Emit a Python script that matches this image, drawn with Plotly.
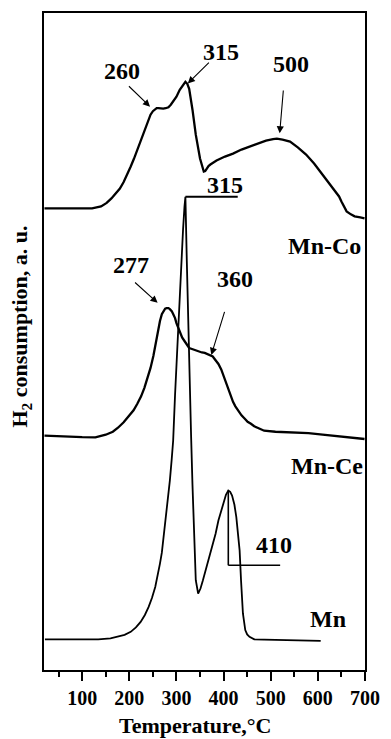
import numpy as np
import plotly.graph_objects as go

FONT = "Liberation Serif"

# Temperature (°C) and H2 consumption signal (a.u., relative to each baseline)
t_mnco = [20, 60, 100, 121, 140, 152, 162, 171, 180, 188, 196, 203, 210, 217, 224, 230,
          235, 240, 245, 250, 254, 258, 262, 267, 272, 277, 283, 288, 293, 300, 307, 314,
          319, 323, 327, 334, 341, 350, 355, 358, 361, 364, 368, 372, 385, 403, 420, 438,
          455, 472, 490, 505, 513, 525, 541, 558, 575, 592, 610, 625, 637, 645, 650, 656,
          661, 670, 678, 690, 699]
s_mnco = [0.0, 0.0, 0.0, 0.0, 0.2, 0.55, 1.0, 1.45, 2.0, 2.65, 3.4, 4.2, 5.0, 5.85, 6.7, 7.5,
          8.2, 8.85, 9.4, 9.75, 9.95, 10.05, 10.05, 10.0, 10.0, 10.05, 10.15, 10.4, 10.7, 11.2, 11.9, 12.4,
          12.7, 12.5, 12.0, 9.9, 7.4, 5.0, 4.0, 3.7, 3.75, 4.0, 4.25, 4.4, 4.8, 5.2, 5.5, 5.9,
          6.2, 6.5, 6.8, 6.95, 7.0, 6.9, 6.7, 6.1, 5.4, 4.5, 3.4, 2.5, 1.7, 1.2, 0.7, 0.1,
          -0.3, -0.6, -0.8, -0.9, -1.0]

t_mnce = [20, 60, 100, 128, 150, 165, 176, 188, 200, 209, 217, 225, 232, 239, 245, 251,
          256, 261, 265, 269, 272, 276, 279, 283, 286, 290, 293, 297, 300, 304, 307, 312,
          317, 322, 327, 333, 338, 343, 348, 354, 360, 366, 372, 377, 381, 385, 389, 395,
          400, 405, 410, 415, 420, 425, 431, 438, 445, 451, 458, 465, 472, 486, 510, 541,
          580, 610, 650, 699]
s_mnce = [0.0, -0.1, -0.15, -0.17, 0.1, 0.4, 0.8, 1.35, 2.0, 2.55, 3.2, 3.95, 4.8, 5.8, 6.8, 8.0,
          9.3, 10.5, 11.5, 12.2, 12.5, 12.75, 12.8, 12.8, 12.7, 12.5, 12.2, 11.8, 11.3, 10.8, 10.3, 9.85,
          9.5, 9.15, 8.8, 8.7, 8.6, 8.5, 8.4, 8.35, 8.3, 8.2, 8.1, 7.95, 7.7, 7.5, 7.2, 6.65,
          6.0, 5.25, 4.5, 3.9, 3.4, 2.95, 2.5, 2.05, 1.7, 1.4, 1.2, 0.95, 0.8, 0.5, 0.4, 0.33,
          0.25, 0.1, -0.1, -0.33]

t_mn = [21, 60, 100, 134, 160, 176, 190, 203, 214, 224, 233, 241, 248, 255, 260, 265,
        269, 272, 276, 279, 283, 286, 290, 293, 297, 303, 309, 314, 317, 319, 322, 325,
        328, 331, 334, 337, 341, 346, 351, 356, 362, 369, 376, 383, 389, 395, 400, 405,
        410, 414, 418, 423, 427, 431, 434, 437, 441, 446, 450, 455, 465, 486, 530, 570, 606]
s_mn = [0.0, 0.0, 0.0, 0.0, 0.1, 0.26, 0.45, 0.76, 1.2, 1.76, 2.45, 3.26, 4.15, 5.26, 6.3, 7.6,
        8.7, 9.93, 11.4, 12.6, 14.3, 15.93, 18.1, 19.93, 24.5, 30.9, 36.6, 41.1, 43.4, 44.4, 37.9, 31.4,
        25.4, 20.5, 15.5, 10.5, 5.93, 4.6, 5.1, 5.9, 6.93, 8.1, 9.26, 10.6, 11.93, 13.0, 13.76, 14.5,
        14.93, 14.8, 14.43, 13.5, 12.26, 10.6, 8.93, 5.93, 2.6, 0.93, 0.5, 0.26, 0.0, -0.03, -0.07, -0.1, -0.14]

# vertical offsets of the stacked profiles
offsets = {"Mn-Co": 46.3, "Mn-Ce": 23.5, "Mn": 3.07}

fig = go.Figure()
series = [("Mn-Co", t_mnco, s_mnco, 2.3),
          ("Mn-Ce", t_mnce, s_mnce, 2.3),
          ("Mn", t_mn, s_mn, 1.8)]
for name, t, s, w in series:
    y = np.array(s) + offsets[name]
    fig.add_trace(go.Scatter(x=t, y=y, mode="lines", name=name,
                             line=dict(color="black", width=w),
                             showlegend=False, hoverinfo="skip"))

lbl_font = dict(family=FONT, size=24, color="black", weight="bold")

# sample names
for name, tx, ty in [("Mn-Co", 615, 42.5), ("Mn-Ce", 619, 20.5), ("Mn", 621, 5.15)]:
    fig.add_annotation(x=tx, y=ty, text=name, showarrow=False, font=lbl_font,
                       xanchor="center", yanchor="middle")

# peak labels with arrows: (text, text x, text y, tail x, tail y, head x, head y)
peaks_arrow = [
    ("260", 184, 60.05, 196, 58.7, 244, 56.5),
    ("315", 394, 62.0, 372, 61.07, 324, 58.83),
    ("500", 542, 60.8, 527, 58.27, 519, 53.83),
    ("277", 203, 40.65, 209, 39.0, 260, 36.83),
    ("360", 424, 39.2, 403, 36.07, 374, 31.6),
]
for txt, tx, ty, ax_, ay_, hx, hy in peaks_arrow:
    fig.add_annotation(x=tx, y=ty, text=txt, showarrow=False, font=lbl_font,
                       xanchor="center", yanchor="middle")
    fig.add_annotation(x=hx, y=hy, ax=ax_, ay=ay_, axref="x", ayref="y", text="",
                       showarrow=True, arrowhead=2, arrowsize=1.3, arrowwidth=1.1,
                       arrowcolor="black", standoff=0)

# Mn peak markers taken from the profile itself
mn_t = np.array(t_mn)
mn_y = np.array(s_mn) + offsets["Mn"]
i1 = int(np.argmax(mn_y))
hi = mn_t > 380
i2 = int(np.where(hi)[0][np.argmax(mn_y[hi])])

fig.add_shape(type="line", x0=mn_t[i1], y0=mn_y[i1], x1=430, y1=mn_y[i1],
              line=dict(color="black", width=2))
fig.add_annotation(x=402, y=mn_y[i1] + 1.2, text="315", showarrow=False, font=lbl_font,
                   xanchor="center", yanchor="middle")

fig.add_shape(type="line", x0=mn_t[i2], y0=mn_y[i2], x1=mn_t[i2], y1=10.5,
              line=dict(color="black", width=1.6))
fig.add_shape(type="line", x0=mn_t[i2], y0=10.5, x1=520, y1=10.5,
              line=dict(color="black", width=1.6))
fig.add_annotation(x=506, y=12.5, text="410", showarrow=False, font=lbl_font,
                   xanchor="center", yanchor="middle")

# axis titles
title_font = dict(family=FONT, size=22, color="black", weight="bold")
fig.add_annotation(xref="paper", yref="paper", x=0.469, y=-0.1055,
                   text="Temperature,°C", showarrow=False, font=title_font,
                   xanchor="center", yanchor="bottom", borderpad=0)
fig.add_annotation(xref="paper", yref="paper", x=-0.07, y=0.522,
                   text="H<sub>2</sub> consumption, a. u.", showarrow=False, font=title_font,
                   textangle=-90, xanchor="center", yanchor="middle")

fig.update_layout(
    width=391, height=739,
    margin=dict(l=44, r=17.5, t=11, b=69),
    plot_bgcolor="white", paper_bgcolor="white",
    xaxis=dict(range=[19, 700], tickvals=[100, 200, 300, 400, 500, 600, 700],
               ticks="outside", ticklen=9, tickwidth=2, tickcolor="black",
               minor=dict(tickvals=[50, 150, 250, 350, 450, 550, 650], ticks="outside",
                          ticklen=4.5, tickwidth=2, tickcolor="black"),
               showline=True, linewidth=2, linecolor="black", mirror=True,
               showgrid=False, zeroline=False,
               tickfont=dict(family=FONT, size=20, color="black", weight="bold")),
    yaxis=dict(range=[0, 65.9], showticklabels=False, ticks="",
               showline=True, linewidth=2, linecolor="black", mirror=True,
               showgrid=False, zeroline=False),
)

fig.write_html("out.html")
